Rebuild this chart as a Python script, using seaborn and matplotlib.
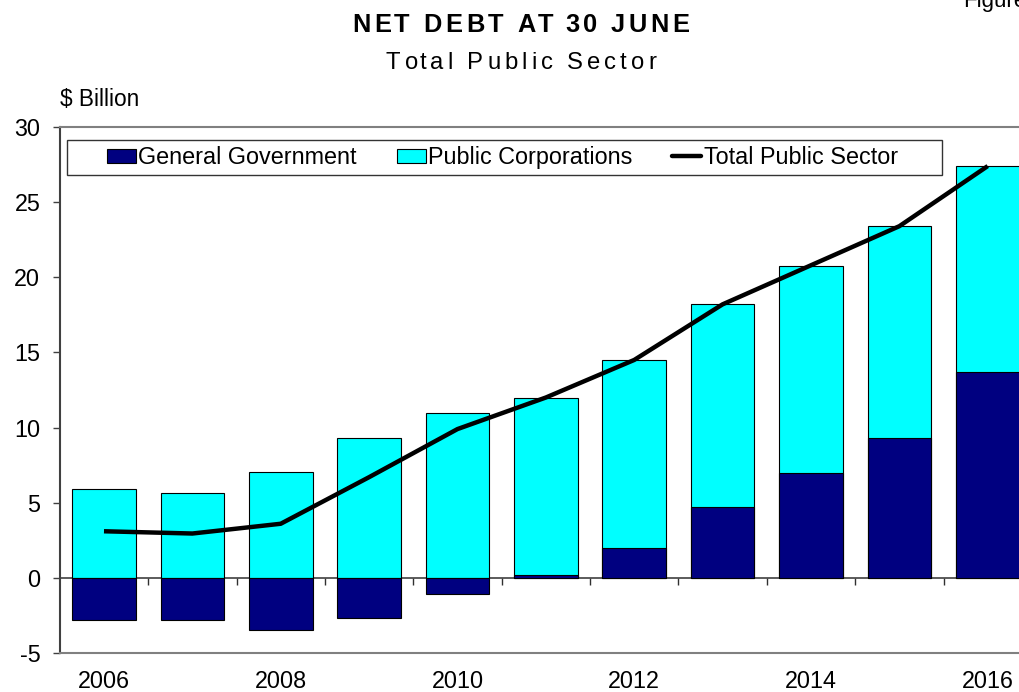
import numpy as np
import pandas as pd
import matplotlib
matplotlib.use("Agg")
import matplotlib.pyplot as plt
from matplotlib.patches import Rectangle, Patch
from matplotlib.lines import Line2D
import seaborn as sns

# ---------------- data ----------------
years = [2006, 2007, 2008, 2009, 2010, 2011, 2012, 2013, 2014, 2015, 2016]
general_government = [-2.8, -2.8, -3.5, -2.65, -1.1, 0.2, 2.0, 4.7, 7.0, 9.3, 13.7]
public_corporations = [5.9, 5.65, 7.05, 9.3, 11.0, 11.8, 12.5, 13.5, 13.75, 14.1, 13.7]
total_public_sector = [3.1, 2.95, 3.6, 6.7, 9.9, 12.0, 14.5, 18.2, 20.8, 23.4, 27.4]
y_ticks = [-5, 0, 5, 10, 15, 20, 25, 30]
x_tick_years = [2006, 2008, 2010, 2012, 2014, 2016]
series_names = ["General Government", "Public Corporations", "Total Public Sector"]
title_text = "NET DEBT AT 30 JUNE"
subtitle_text = "Total Public Sector"
unit_text = "$ Billion"
corner_text = "Figure"

NAVY = "#000080"
CYAN = "#00FFFF"

sns.set_style("white")
plt.rcParams["font.family"] = ["Liberation Sans", "DejaVu Sans"]
plt.rcParams["axes.unicode_minus"] = False
plt.rcParams["text.color"] = "black"
plt.rcParams["xtick.color"] = "black"
plt.rcParams["ytick.color"] = "black"
plt.rcParams["axes.labelcolor"] = "black"

df = pd.DataFrame({
    "year": years,
    "gg": general_government,
    "pc": public_corporations,
    "total": total_public_sector,
})
# top of the stacked (positive) part of each bar
df["pc_top"] = df["gg"].clip(lower=0) + df["pc"]

W, H = 1019, 692
fig = plt.figure(figsize=(W / 100, H / 100), dpi=100)
ax_l, ax_r, ax_t, ax_b = 59.8, 1031.9, 127, 653
ax = fig.add_axes([ax_l / W, 1 - ax_b / H, (ax_r - ax_l) / W, (ax_b - ax_t) / H])

bar_kw = dict(native_scale=True, saturation=1, width=0.72, edgecolor="black",
              linewidth=0.8, errorbar=None, ax=ax)
sns.barplot(data=df, x="year", y="pc_top", color=CYAN, **bar_kw)
sns.barplot(data=df, x="year", y="gg", color=NAVY, **bar_kw)
sns.lineplot(data=df, x="year", y="total", color="black", linewidth=3.2,
             solid_capstyle="butt", ax=ax, zorder=5)

ax.set_xlim(years[0] - 0.5, years[-1] + 0.5)
ax.set_ylim(y_ticks[0], y_ticks[-1])
ax.set_yticks(y_ticks)
ax.set_yticklabels([str(t) for t in y_ticks])
ax.set_xticks(x_tick_years)
ax.set_xticklabels([str(t) for t in x_tick_years])
ax.set_xlabel("")
ax.set_ylabel("")

ax.tick_params(axis="y", direction="out", length=5, width=1, color="#404040",
               labelsize=16.8, labelcolor="black", pad=9, left=True)
ax.tick_params(axis="x", length=0, labelsize=16.8, labelcolor="black", pad=12)

ax.spines["right"].set_visible(False)
ax.spines["top"].set_color("#808080")
ax.spines["top"].set_linewidth(1.5)
ax.spines["bottom"].set_color("#808080")
ax.spines["bottom"].set_linewidth(1.5)
ax.spines["left"].set_color("#404040")
ax.spines["left"].set_linewidth(1.5)

# zero line with category-boundary ticks
zero_frac = (0 - y_ticks[0]) / (y_ticks[-1] - y_ticks[0])
sec = ax.secondary_xaxis(zero_frac)
sec.set_xticks([y + 0.5 for y in years[:-1]])
sec.tick_params(axis="x", direction="out", length=5, width=1, color="#303030",
                labelbottom=False, labeltop=False)
sec.spines["bottom"].set_color("#404040")
sec.spines["bottom"].set_linewidth(1.2)

# legend
handles = [
    Patch(facecolor=NAVY, edgecolor="black", linewidth=0.8),
    Patch(facecolor=CYAN, edgecolor="black", linewidth=0.8),
    Line2D([], [], color="black", linewidth=3.2),
]
ax_w = ax_r - ax_l
ax_h = ax_b - ax_t
leg = ax.legend(handles, series_names, ncol=3, frameon=False,
                loc="center left",
                bbox_to_anchor=((107 - ax_l) / ax_w, (ax_b - 157.5) / ax_h),
                borderpad=0, borderaxespad=0, fontsize=16.8,
                handlelength=1.25, handleheight=0.54, handletextpad=0.1,
                columnspacing=1.7)
frame = Rectangle(((67 - ax_l) / ax_w, (ax_b - 175) / ax_h),
                  (942 - 67) / ax_w, 35 / ax_h, transform=ax.transAxes,
                  facecolor="white", edgecolor="#333333", linewidth=1.0,
                  zorder=4)
ax.add_patch(frame)
leg.set_zorder(6)

# letter-spaced titles, placed character by character
renderer = fig.canvas.get_renderer()


def measure(txt, **kw):
    t = fig.text(0, 0, txt, **kw)
    w = t.get_window_extent(renderer).width
    t.remove()
    return w


def spaced_text(s, left_px, right_px, baseline_px, **kw):
    ref_w = measure("x", **kw)
    offsets = [0.0] + [measure(s[:i] + "x", **kw) - ref_w for i in range(1, len(s))]
    natural = offsets[-1] + measure(s[-1], **kw)
    gap = (right_px - left_px - natural) / (len(s) - 1)
    for i, ch in enumerate(s):
        if ch == " ":
            continue
        fig.text((left_px + offsets[i] + i * gap) / W, 1 - baseline_px / H, ch,
                 ha="left", va="baseline", **kw)


spaced_text(title_text, 352, 689, 32.5, fontsize=18.3, fontweight="bold")
spaced_text(subtitle_text, 386, 656, 69, fontsize=17.2)
fig.text(60 / W, 1 - 106 / H, unit_text, ha="left", va="baseline",
         fontsize=16.3)
fig.text(963 / W, 1 - 7 / H, corner_text, ha="left", va="baseline", fontsize=16)

fig.savefig("out.png", dpi=100)
